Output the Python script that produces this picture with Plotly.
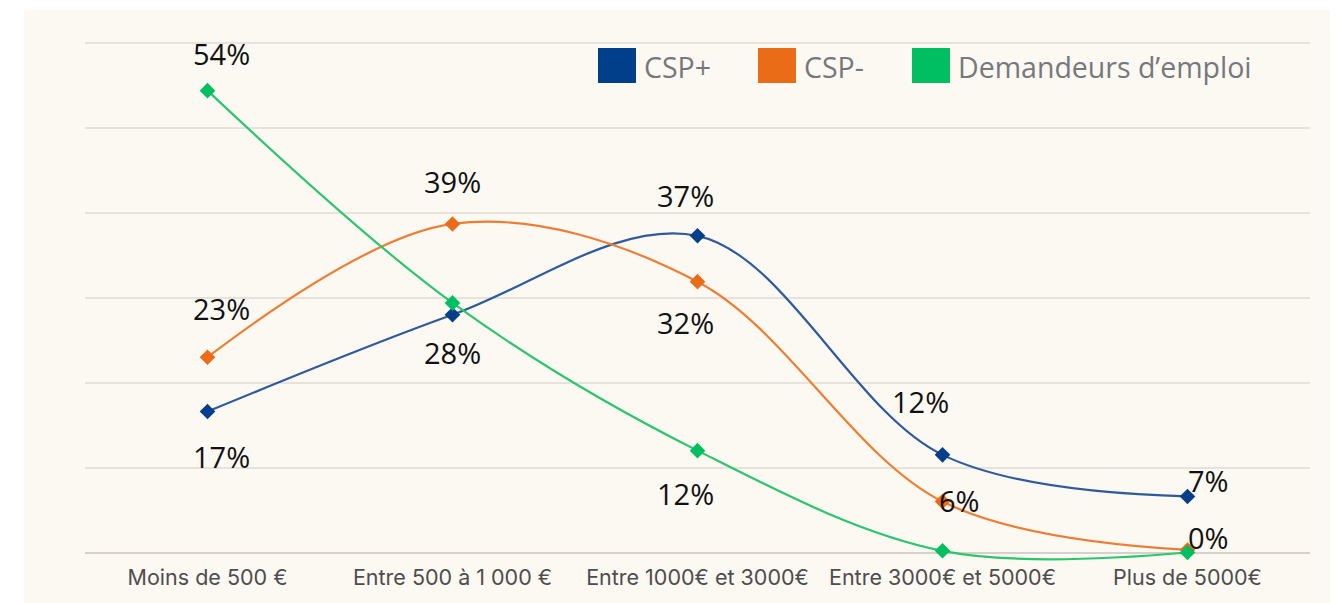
import plotly.graph_objects as go

categories = ["Moins de 500 €", "Entre 500 à 1 000 €", "Entre 1000€ et 3000€",
              "Entre 3000€ et 5000€", "Plus de 5000€"]
csp_plus = [16.6, 28.0, 37.3, 11.5, 6.6]
csp_moins = [23.0, 38.7, 31.9, 6.0, 0.3]
demandeurs = [54.4, 29.4, 12.0, 0.2, 0.0]
series_names = ["CSP+", "CSP-", "Demandeurs d’emploi"]

# which points carry a visible label (per series) and their offsets (px)
label_show = [[True, True, True, True, True],
              [True, True, True, True, True],
              [True, False, True, False, False]]
label_dx = [[14, 0, -12, -22, 21],
            [14, 0, -12, 17, 21],
            [14, 0, -12, 0, 21]]
label_dy = [[-45, -38, 40, 53, 16],
            [49, 42, -41, 1, 12],
            [37, 0, -43, 0, 0]]

line_colors = ["#2f5a9e", "#ef7d31", "#2cc56f"]
marker_colors = ["#053f8a", "#ea6b18", "#00bf60"]
legend_colors = ["#023f8a", "#ea6c17", "#00bf63"]

# page geometry (the figure div sits 8px in from the page's top-left corner)
OFF = 8
W, H = 1338, 603
Y_MIN, Y_MAX = -1.0, 60.6
PX_PER_UNIT = 8.5
L, R = 85, 1310
ZERO_Y = 553
T = ZERO_Y - Y_MAX * PX_PER_UNIT
B = ZERO_Y - Y_MIN * PX_PER_UNIT


def px(xp):
    return (xp - L) / (R - L)


def py(yp):
    return (B - yp) / (B - T)


fig = go.Figure()
all_series = [csp_plus, csp_moins, demandeurs]
for name, vals, lc, mc in zip(series_names, all_series, line_colors, marker_colors):
    fig.add_trace(go.Scatter(
        x=categories, y=vals, name=name, mode="lines+markers",
        line=dict(color=lc, width=2.2, shape="spline", smoothing=1),
        marker=dict(symbol="diamond", size=12, color=mc),
        showlegend=False, hoverinfo="skip",
    ))

annotations = []
for s, vals in enumerate(all_series):
    for i, v in enumerate(vals):
        if not label_show[s][i]:
            continue
        annotations.append(dict(
            x=categories[i], y=v, xref="x", yref="y",
            text=f"{round(v)}%", showarrow=False,
            xshift=label_dx[s][i], yshift=label_dy[s][i],
            font=dict(family="Open Sans, Noto Sans, sans-serif", size=29, color="#111111"),
        ))

shapes = [dict(type="rect", xref="paper", yref="paper", layer="below",
               x0=px(24), x1=px(1400), y0=py(700), y1=py(10),
               fillcolor="#fcf8f2", line=dict(width=0))]
leg_x = [598, 758, 912]
for name, col, lx in zip(series_names, legend_colors, leg_x):
    shapes.append(dict(type="rect", xref="paper", yref="paper",
                       x0=px(lx), x1=px(lx + 38), y0=py(83), y1=py(48),
                       fillcolor=col, line=dict(width=0)))
    annotations.append(dict(x=px(lx + 44), y=py(67), xref="paper", yref="paper",
                            xanchor="left", yanchor="middle", text=name, showarrow=False,
                            font=dict(family="Open Sans, Noto Sans, sans-serif", size=28.5,
                                      color="#76787b")))

fig.update_layout(
    width=W - OFF, height=H - OFF,
    margin=dict(l=L - OFF, r=W - R, t=T - OFF, b=H - B, pad=0),
    paper_bgcolor="#ffffff", plot_bgcolor="rgba(0,0,0,0)",
    shapes=shapes, annotations=annotations, showlegend=False,
    xaxis=dict(type="category", range=[-0.5, 4.5], showgrid=False, zeroline=False,
               showline=False, ticks="", ticklabelstandoff=1,
               tickfont=dict(family="Inter, Roboto, sans-serif", size=21.5, color="#4d4d4d")),
    yaxis=dict(range=[Y_MIN, Y_MAX], tick0=0, dtick=10, showticklabels=False,
               gridcolor="#e6e2dc", gridwidth=2, zeroline=True, zerolinecolor="#d6d2cb",
               zerolinewidth=2, showline=False),
)

fig.write_html("out.html")
